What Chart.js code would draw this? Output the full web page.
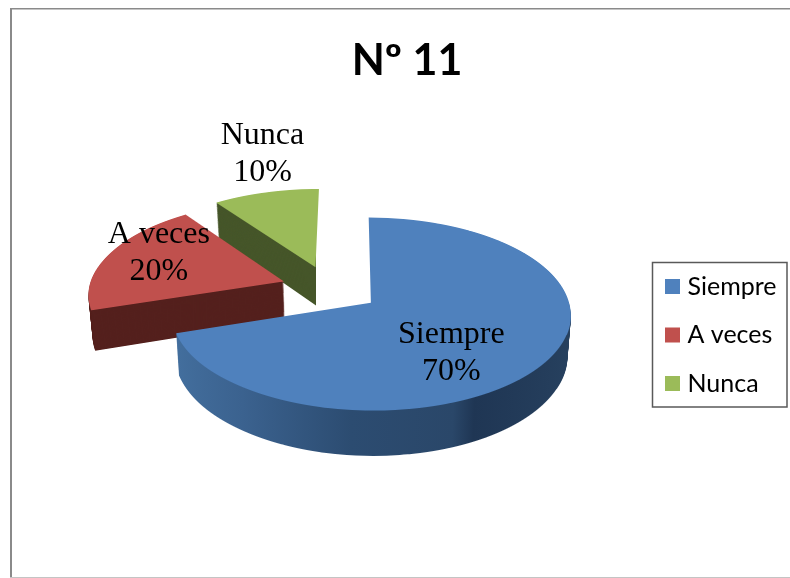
<!DOCTYPE html>
<html><head><meta charset="utf-8">
<style>html,body{margin:0;padding:0;background:#fff}canvas{display:block}</style>
<script src="https://cdn.jsdelivr.net/npm/chart.js@4/dist/chart.umd.min.js"></script>
</head><body>
<canvas id="c" width="790" height="578"></canvas>
<script>
const categories = ['Siempre', 'A veces', 'Nunca'];
const values = [70, 20, 10];
const percentLabels = ['70%', '20%', '10%'];
const topColors = ['#4F81BD', '#C0504D', '#9BBB59'];
const sideColors = [null, '#54201D', '#46562A'];

// 3D look of the pie
const view = {Xc: 350, Yc: 302, xs: 0.99, t: 0.475, k: 0.000586, m: 0.00039, R: 200, depth: 40,
              explode: [52, 50, 50], cu: -21, cv: -29};
const labelShift = [[80.5, 49.5], [-125, -29], [-53, -114.5]];

function project(u, v, z) {
  const w = 1 - view.k * v;
  return {x: view.Xc + view.xs * u / w * (1 - view.m * z), y: view.Yc + (view.t * v + z) / w};
}
function apexOf(arc, i) {
  const mid = (arc.startAngle + arc.endAngle) / 2;
  return {u: view.cu + view.explode[i] * Math.cos(mid), v: view.cv + view.explode[i] * Math.sin(mid)};
}
function drawLayer(ctx, arc, i, z, fill) {
  const a = apexOf(arc, i), s = view.R / arc.outerRadius, top = project(a.u, a.v, 0);
  const y0 = Math.floor(project(0, a.v - view.R, z).y) - 1;
  const y1 = Math.ceil(project(0, a.v + view.R, z).y) + 1;
  const saved = arc.options;
  arc.options = Object.assign({}, saved, {backgroundColor: fill, borderWidth: 0});
  for (let Y = y0; Y <= y1; Y++) {
    // the far cut faces of the first and last slices stay hidden
    if (z > 0 && i === 0 && Y < top.y) continue;
    const D = Y + 0.5 - view.Yc;
    const v = (D - z) / (view.t + view.k * D);
    if (v < a.v - view.R - 2 || v > a.v + view.R + 2) continue;
    const w = 1 - view.k * v;
    const sx = view.xs * (1 - view.m * z) / w;
    const dy = (view.t + view.k * z) / (w * w);
    ctx.save();
    ctx.setTransform(1, 0, 0, 1, 0, 0);
    ctx.beginPath();
    ctx.rect(0, Y, z > 0 && i === 2 ? Math.ceil(top.x) : 790, 1);
    ctx.clip();
    ctx.setTransform(s * sx, 0, 0, s * dy,
      view.Xc + (a.u - s * arc.x) * sx,
      Y + 0.5 + dy * (a.v - s * arc.y - v));
    arc.draw(ctx);
    ctx.restore();
  }
  arc.options = saved;
}
const pie3d = {
  id: 'pie3d',
  afterLayout(chart) {
    const l = chart.legend;
    l.left = 646.5; l.right = 787; l.top = 250.5; l.bottom = 578;
    const tb = chart.titleBlock;
    tb.left = 24; tb.right = 790;
  },
  beforeDraw(chart) {
    const ctx = chart.ctx;
    ctx.save();
    ctx.fillStyle = '#fff'; ctx.fillRect(0, 0, 790, 578);
    ctx.fillStyle = '#8a8a8a';
    ctx.fillRect(10, 8, 780, 1.5);
    ctx.fillRect(10, 8, 2, 570);
    ctx.fillStyle = '#c4c4c4';
    ctx.fillRect(10, 577, 780, 1);
    ctx.restore();
  },
  beforeDatasetsDraw(chart) {
    const ctx = chart.ctx, arcs = chart.getDatasetMeta(0).data;
    for (let i = arcs.length - 1; i >= 0; i--) {
      const arc = arcs[i];
      let side = sideColors[i];
      if (!side) {
        side = ctx.createLinearGradient(arc.x - arc.outerRadius, 0, arc.x + arc.outerRadius, 0);
        side.addColorStop(0, '#44709F');
        side.addColorStop(0.2, '#3B628F');
        side.addColorStop(0.45, '#2C4C71');
        side.addColorStop(0.68, '#2A4769');
        side.addColorStop(0.73, '#1F3654');
        side.addColorStop(1, '#27415F');
      }
      for (let z = view.depth; z >= 1; z--) drawLayer(ctx, arc, i, z, side);
      drawLayer(ctx, arc, i, 0, topColors[i]);
    }
    return false;
  },
  afterDraw(chart) {
    const ctx = chart.ctx, arcs = chart.getDatasetMeta(0).data;
    ctx.save();
    ctx.fillStyle = '#000';
    ctx.font = '32px "Liberation Serif"';
    ctx.textAlign = 'center';
    ctx.textBaseline = 'alphabetic';
    arcs.forEach((arc, i) => {
      const a = apexOf(arc, i), p = project(a.u, a.v, 0);
      const x = p.x + labelShift[i][0], y = p.y + labelShift[i][1];
      ctx.fillText(categories[i], x, y - 9);
      ctx.fillText(percentLabels[i], x, y + 28);
    });
    // legend frame
    ctx.strokeStyle = '#595959'; ctx.lineWidth = 1.5;
    ctx.strokeRect(652.5, 262.5, 134.5, 144.5);
    ctx.restore();
  }
};
new Chart(document.getElementById('c'), {
  type: 'pie',
  data: {labels: categories, datasets: [{data: values, backgroundColor: topColors, borderWidth: 0}]},
  plugins: [pie3d],
  options: {
    responsive: false, animation: false,
    layout: {padding: {right: 3}},
    plugins: {
      tooltip: {enabled: false},
      title: {display: true, text: 'Nº 11', color: '#000',
        font: {family: 'Lato', weight: 'bold', size: 43, lineHeight: 1.2}, padding: {top: 35, bottom: 10}},
      legend: {position: 'right', align: 'start',
        labels: {font: {family: 'Lato', size: 25}, color: '#000', boxWidth: 5, boxHeight: 5, padding: 23.5,
          generateLabels(chart) {
            return Chart.overrides.pie.plugins.legend.labels.generateLabels(chart).map(item =>
              Object.assign(item, {lineWidth: 10, strokeStyle: item.fillStyle}));
          }}}
    }
  }
});
</script>
</body></html>
